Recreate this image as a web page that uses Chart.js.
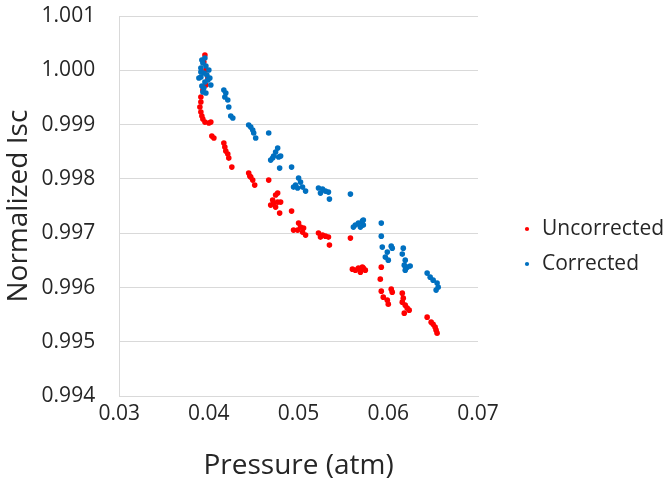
<!DOCTYPE html>
<html>
<head>
<meta charset="utf-8">
<script src="https://cdn.jsdelivr.net/npm/chart.js@4"></script>
<style>
  html, body { margin: 0; padding: 0; background: #ffffff; }
  #wrap { width: 663px; height: 483px; }
</style>
</head>
<body>
<div id="wrap"><canvas id="c" width="663" height="483"></canvas></div>
<script>
// ---- data ----
const seriesNames = ["Uncorrected", "Corrected"];

const uncorrectedPressure = [
  0.03956,0.03944,0.03967,0.03989,0.03967,0.03933,0.03911,0.03911,0.03900,0.03911,
  0.03922,0.03933,0.03956,0.04000,0.04022,0.04033,0.04056,0.04167,0.04178,0.04189,
  0.04211,0.04222,0.04256,0.04444,0.04467,0.04489,0.04511,0.04456,0.04667,0.04767,
  0.04744,0.04711,0.04689,0.04722,0.04767,0.04800,0.04744,0.04789,0.04922,0.05000,
  0.05022,0.04989,0.04944,0.05044,0.05078,0.05056,0.05222,0.05267,0.05300,0.05333,
  0.05344,0.05244,0.05578,0.05600,0.05633,0.05667,0.05711,0.05744,0.05689,0.05722,
  0.05922,0.05911,0.05922,0.05944,0.05989,0.06000,0.06033,0.06044,0.06156,0.06167,
  0.06156,0.06189,0.06211,0.06178,0.06233,0.06433,0.06478,0.06500,0.06522,0.06544,0.06533
];
const uncorrectedIsc = [
  1.000282,1.000153,1.000005,0.999858,0.999729,0.999637,0.999508,0.999416,0.999324,0.999232,
  0.999158,0.999103,0.999047,0.999029,0.999047,0.998789,0.998753,0.998661,0.998587,0.998513,
  0.998458,0.998384,0.998218,0.998108,0.998034,0.997979,0.997887,0.998053,0.997979,0.997739,
  0.997703,0.997611,0.997518,0.997555,0.997574,0.997574,0.997482,0.997371,0.997408,0.997187,
  0.997113,0.997058,0.997058,0.997021,0.996966,0.997095,0.997003,0.996966,0.996947,0.996929,
  0.996782,0.996929,0.996911,0.996339,0.996321,0.996358,0.996376,0.996321,0.996284,0.996358,
  0.996376,0.996155,0.995934,0.995824,0.995768,0.995695,0.995971,0.995916,0.995897,0.995805,
  0.995732,0.995676,0.995621,0.995529,0.995584,0.995455,0.995363,0.995326,0.995271,0.995161,0.995216
];

const correctedPressure = [
  0.03933,0.03911,0.03967,0.04000,0.03944,0.03911,0.03989,0.04022,0.03944,0.03933,
  0.03967,0.03911,0.03889,0.03922,0.03956,0.03978,0.03956,0.04011,0.03922,
  0.04167,0.04189,0.04178,0.04211,0.04222,0.04244,0.04267,0.04444,0.04467,0.04489,
  0.04500,0.04522,0.04667,0.04767,0.04744,0.04722,0.04711,0.04778,0.04800,0.04689,
  0.04789,0.04922,0.05000,0.05022,0.04967,0.04944,0.05044,0.05078,0.04989,0.05222,
  0.05267,0.05300,0.05333,0.05344,0.05244,0.05578,0.05611,0.05633,0.05667,0.05711,
  0.05722,0.05689,0.05722,0.05922,0.05922,0.05933,0.05989,0.05967,0.06000,0.06033,
  0.06044,0.06167,0.06156,0.06189,0.06178,0.06211,0.06244,0.06189,0.06433,0.06467,
  0.06500,0.06544,0.06556,0.06533
];
const correctedIsc = [
  1.000134,1.000042,1.000079,1.000005,0.999950,0.999876,0.999821,0.999729,0.999674,0.999600,
  0.999582,0.999968,0.999858,1.000189,1.000226,0.999913,0.999784,0.999858,0.999711,
  0.999637,0.999582,0.999508,0.999453,0.999324,0.999158,0.999121,0.998992,0.998955,0.998900,
  0.998845,0.998753,0.998845,0.998568,0.998495,0.998421,0.998384,0.998403,0.998421,0.998347,
  0.998200,0.998218,0.998016,0.997942,0.997887,0.997850,0.997850,0.997776,0.997832,0.997832,
  0.997813,0.997776,0.997758,0.997629,0.997739,0.997721,0.997113,0.997150,0.997187,0.997224,
  0.997150,0.997113,0.997242,0.997187,0.996947,0.996745,0.996653,0.996561,0.996505,0.996763,
  0.996726,0.996726,0.996616,0.996505,0.996413,0.996376,0.996395,0.996321,0.996266,0.996192,
  0.996137,0.996082,0.996008,0.995953
];

const xTickLabels = ["0.03","0.04","0.05","0.06","0.07"];
const yTickLabels = ["0.994","0.995","0.996","0.997","0.998","0.999","1.000","1.001"];
const xTitle = "Pressure (atm)";
const yTitle = "Normalized Isc";

// ---- build chart ----
const zip = (xs, ys) => xs.map((x, i) => ({ x: x, y: ys[i] }));
const FONT = "'Open Sans', 'Noto Sans', sans-serif";
const TEXT = "#262626";
const GRID = "#d9d9d9";

// move the legend a little further from the plot area (layout only)
const legendGap = {
  id: 'legendGap',
  afterLayout(chart) {
    const lg = chart.legend;
    if (lg) { lg.left += 30.5; lg.right += 30.5; }
  }
};

new Chart(document.getElementById('c'), {
  type: 'scatter',
  data: {
    datasets: [
      {
        label: seriesNames[1],
        data: zip(correctedPressure, correctedIsc),
        backgroundColor: '#0070c0',
        borderWidth: 0,
        pointRadius: 2.8,
        pointHoverRadius: 2.8
      },
      {
        label: seriesNames[0],
        data: zip(uncorrectedPressure, uncorrectedIsc),
        backgroundColor: '#ff0000',
        borderWidth: 0,
        pointRadius: 2.8,
        pointHoverRadius: 2.8
      }
    ]
  },
  plugins: [legendGap],
  options: {
    responsive: false,
    animation: false,
    events: [],
    layout: { padding: { top: 10, right: 0, bottom: 0, left: 0 } },
    plugins: {
      tooltip: { enabled: false },
      legend: {
        position: 'right',
        reverse: true,
        labels: {
          usePointStyle: true,
          pointStyle: 'circle',
          boxWidth: 9,
          boxHeight: 3,
          padding: 14,
          color: TEXT,
          font: { family: FONT, size: 21 }
        }
      }
    },
    scales: {
      x: {
        type: 'linear',
        min: 0.03,
        max: 0.07,
        afterFit: (s) => { s.paddingRight = 185; },
        ticks: {
          stepSize: 0.01,
          padding: 5,
          color: TEXT,
          font: { family: FONT, size: 21 },
          callback: (v) => {
            const i = Math.round((v - 0.03) / 0.01);
            return xTickLabels[i] !== undefined ? xTickLabels[i] : '';
          }
        },
        grid: { display: false, drawTicks: false },
        border: { display: true, color: GRID, width: 1 },
        title: {
          display: true,
          text: xTitle,
          color: TEXT,
          font: { family: FONT, size: 28 },
          padding: { top: 18, bottom: 0 }
        }
      },
      y: {
        type: 'linear',
        min: 0.994,
        max: 1.001,
        afterFit: (s) => { s.width -= 24; s.paddingTop = 16; },
        ticks: {
          stepSize: 0.001,
          padding: 24,
          color: TEXT,
          font: { family: FONT, size: 21 },
          callback: (v) => {
            const i = Math.round((v - 0.994) / 0.001);
            return yTickLabels[i] !== undefined ? yTickLabels[i] : '';
          }
        },
        grid: { color: GRID, lineWidth: 1, drawTicks: false },
        border: { display: true, color: GRID, width: 1 },
        title: {
          display: true,
          text: yTitle,
          color: TEXT,
          font: { family: FONT, size: 28 },
          padding: { top: 2, bottom: 6 }
        }
      }
    }
  }
});
</script>
</body>
</html>
